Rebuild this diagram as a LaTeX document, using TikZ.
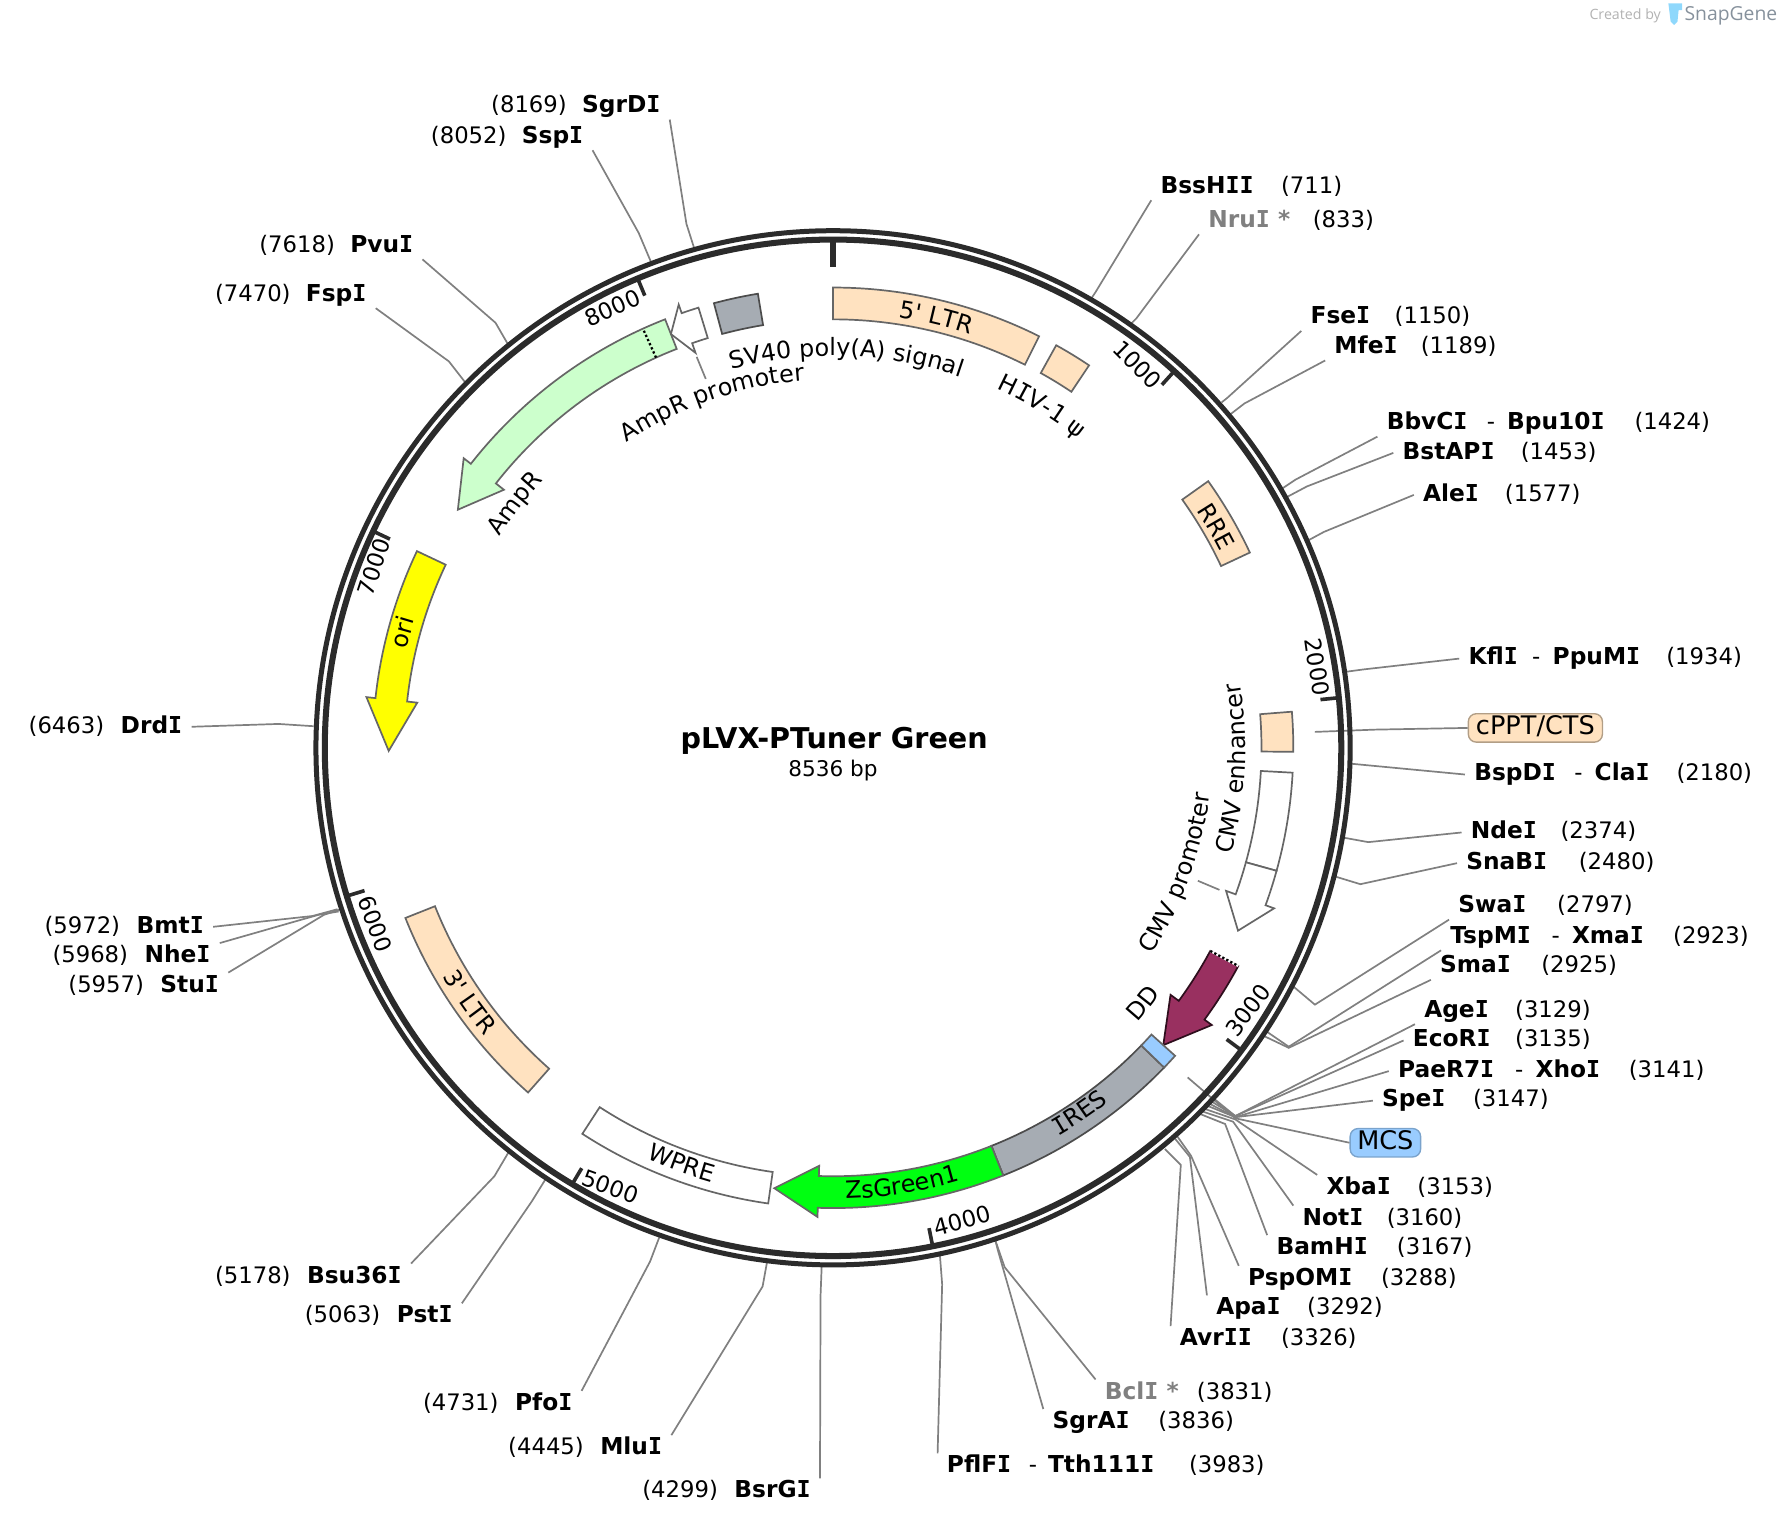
\documentclass[tikz,border=0pt]{standalone}
\usepackage{fontspec}
\setmainfont[Ligatures=TeXOff]{DejaVu Sans}
\newfontfamily\logofont{Open Sans}
\newfontfamily\slabfont{DejaVu Sans Mono}
\newcommand{\sI}{{\slabfont I}}
\newcommand{\lfs}{\fontsize{21}{24}\selectfont}
\usetikzlibrary{decorations.text}
\definecolor{ringc}{HTML}{2B2B2B}
\definecolor{leadc}{HTML}{808080}
\definecolor{peach}{HTML}{FFE2C0}
\definecolor{slate}{HTML}{A6ACB3}
\definecolor{plum}{HTML}{993060}
\definecolor{mint}{HTML}{CCFFCC}
\definecolor{zsgreen}{RGB}{0,255,17}
\definecolor{mcsblue}{HTML}{99CCFF}
\definecolor{oriyellow}{RGB}{255,255,0}
\definecolor{logoblue}{HTML}{8FD8FC}
\definecolor{logogray}{HTML}{86919C}
\tikzset{
  sitename/.style={font=\fontsize{20.5}{24}\selectfont\bfseries, text height=15pt, text depth=4pt,
    inner xsep=8pt, inner ysep=2pt, xshift=-8pt, yshift=-2.5pt, anchor=west},
  sitenum/.style={font=\fontsize{20}{24}\selectfont, text height=15pt, text depth=4pt,
    inner xsep=4pt, inner ysep=0pt, xshift=-4pt, anchor=west},
  sitedash/.style={sitenum, yshift=-2.5pt},
  leader/.style={draw=leadc, line width=1.5pt},
  feat/.style={draw=black!60, line width=1.5pt, line join=miter},
  ticknum/.style={font=\fontsize{20}{24}\selectfont},
  featbadge/.style={font=\fontsize{22.5}{24}\selectfont, rounded corners=7pt, draw=#1, line width=1.2pt,
    minimum height=25pt, inner xsep=0pt, inner ysep=0pt, text height=16pt, text depth=4pt}
}
\newcommand{\site}[9][]{
  \node[sitename,#1] (#2) at (#3) {#4};
  \node[sitenum] (#2 num) at (#5,0 |- #2) {(#6)};
  \coordinate (#2 ring) at (#7);
  \coordinate (#2 bend) at (#8);
  \draw[leader] (#2 ring) -- (#2 bend) -- (#2.#9);
}
\newcommand{\featbox}[3]{
  \draw[feat,#3] (#1-90:405) arc[start angle=#1-90,end angle=#2-90,radius=405]
    -- (#2-90:377) arc[start angle=#2-90,end angle=#1-90,radius=377] -- cycle;
}
\newcommand{\featarrow}[4]{
  \draw[feat,#4] (#1-90:405) arc[start angle=#1-90,end angle=#2-90,radius=405]
    -- (#2-90:413) -- (#3-90:391) -- (#2-90:368) -- (#2-90:377)
    arc[start angle=#2-90,end angle=#1-90,radius=377] -- cycle;
}
\newcommand{\featlabel}[4]{
  \path[decorate,decoration={text along path,text align=center,
    text={|\lfs|#1}}]
    (#3-90:#2) arc[start angle=#3-90,end angle=#4-90,radius=#2];
}
\begin{document}
\begin{tikzpicture}[x=1pt,y=-1pt]
\useasboundingbox (0,0) rectangle (1568,1342.7);

\site{sgrdi}{512,91}{SgrD\sI}{432}{8169}{611,219}{604,197}{south east}
\site{sspi}{459,118}{Ssp\sI}{379}{8052}{573,231}{562,205}{south east}
\site{pvui}{308,214}{Pvu\sI}{228}{7618}{447,303}{436,284}{south east}
\site{fspi}{269,257}{Fsp\sI}{189}{7470}{409,336}{395,318}{south east}
\site{drdi}{106,637}{Drd\sI}{25}{6463}{276,639}{245,637}{east}
\site{bmti}{120,813}{Bmt\sI}{39}{5972}{297,800}{275,806}{east}
\site{nhei}{127,839}{Nhe\sI}{46}{5968}{298,802}{280,805}{north east}
\site{stui}{141,865}{Stu\sI}{60}{5957}{300,800}{285,805}{north east}
\site{bsu}{270,1121}{Bsu36\sI}{189}{5178}{448,1013}{435,1035}{north east}
\site{psti}{349,1156}{Pst\sI}{268}{5063}{481,1036}{468,1057}{north east}
\site{pfoi}{453,1233}{Pfo\sI}{372}{4731}{580,1089}{572,1110}{north east}
\site{mlui}{528,1272}{Mlu\sI}{447}{4445}{675,1110}{671,1132}{north east}
\site{bsrgi}{646,1310}{BsrG\sI}{565}{4299}{723,1114}{722,1140}{north east}
\site{pflfi}{833,1288}{PflF\sI}{1046}{3983}{827,1104}{829,1130}{north west}
\node[sitename] (tth) at (922,1288) {Tth111\sI};
\node[sitedash] (pflfi dash) at (905,1288) {-};
\site{sgrai}{926,1249}{SgrA\sI}{1019}{3836}{876,1092}{878,1100}{north west}
\site[text=leadc]{bcli}{972,1223}{Bcl\sI{} *}{1053}{3831}{876,1092}{884,1115}{north west}
\site{avrii}{1038,1176}{Avr\sI\sI}{1127}{3326}{1025,1011}{1039,1025}{north west}
\site{apai}{1070,1149}{Apa\sI}{1150}{3292}{1034,1002}{1047,1018}{north west}
\site{pspomi}{1098,1123}{PspOM\sI}{1215}{3288}{1036,1000}{1048,1017}{north west}
\site{bamhi}{1123,1096}{BamH\sI}{1229}{3167}{1053,979}{1078,989}{north west}
\site{noti}{1146,1070}{Not\sI}{1220}{3160}{1055,977}{1085,987}{north west}
\site{xbai}{1167,1043}{Xba\sI}{1247}{3153}{1058,975}{1087,985}{north west}
\site{spei}{1216,966}{Spe\sI}{1296}{3147}{1060,972}{1087,983}{west}
\site{paer}{1230,940}{PaeR7\sI}{1433}{3141}{1062,970}{1087,983}{west}
\node[sitename] (xhoi) at (1351,940) {Xho\sI};
\node[sitedash] (paer dash) at (1333,940) {-};
\site{ecori}{1243,913}{EcoR\sI}{1333}{3135}{1064,968}{1087,982}{west}
\site{agei}{1253,887}{Age\sI}{1333}{3129}{1066,965}{1087,982}{south west}
\site{smai}{1267,848}{Sma\sI}{1356}{2925}{1113,912}{1134,922}{south west}
\site{tspmi}{1276,822}{TspM\sI}{1472}{2923}{1115,908}{1134,921}{south west}
\node[sitename] (xmai) at (1383,822) {Xma\sI};
\node[sitedash] (tspmi dash) at (1365,822) {-};
\site{swai}{1283,795}{Swa\sI}{1370}{2797}{1138,868}{1157,884}{south west}
\site{snabi}{1290,757}{SnaB\sI}{1389}{2480}{1174,771}{1197,778}{west}
\site{ndei}{1294,730}{Nde\sI}{1373}{2374}{1182,737}{1204,741}{west}
\site{bspdi}{1297,679}{BspD\sI}{1475}{2180}{1189,672}{1210,674}{west}
\node[sitename] (clai) at (1403,679) {Cla\sI};
\node[sitedash] (bspdi dash) at (1385,679) {-};
\site{kfli}{1292,577}{Kfl\sI}{1466}{1934}{1185,591}{1200,589}{west}
\node[sitename] (ppumi) at (1366,577) {PpuM\sI};
\node[sitedash] (kfli dash) at (1348,577) {-};
\site{alei}{1252,433}{Ale\sI}{1324}{1577}{1152,475}{1165,468}{west}
\site{bstapi}{1234,396}{BstAP\sI}{1338}{1453}{1133,437}{1150,428}{west}
\site{bbvci}{1220,370}{BbvC\sI}{1438}{1424}{1128,430}{1140,422}{south west}
\node[sitename] (bpuI) at (1326,370) {Bpu10\sI};
\node[sitedash] (bbvci dash) at (1308,370) {-};
\site{mfei}{1174,303}{Mfe\sI}{1250}{1189}{1082,365}{1095,355}{south west}
\site{fsei}{1153,277}{Fse\sI}{1227}{1150}{1075,354}{1080,350}{south west}
\site[text=leadc]{nrui}{1063,192}{Nru\sI{} *}{1155}{833}{995,285}{1000,280}{south west}
\site{bsshii}{1021,162}{BssH\sI\sI}{1127}{711}{960,263}{964,257}{south west}

\node[featbadge=black!30!peach,fill=peach,minimum width=118pt] (cppt) at (1351,640.5) {cPPT/CTS};
\coordinate (cppt in) at (1157,644);
\coordinate (cppt bend) at (1210,642);
\draw[leader] (cppt in) -- (cppt bend) -- (cppt.west);
\node[featbadge=black!20!mcsblue,fill=mcsblue,minimum width=62pt] (mcs) at (1219,1005.5) {MCS};
\coordinate (mcs in) at (1045,948);
\coordinate (mcs bend) at (1087,984);
\draw[leader] (mcs in) -- (mcs bend) -- (mcs.west);
\coordinate (ampp a) at (613,314);
\coordinate (ampp b) at (621,333.4);
\draw[leader] (ampp a) -- (ampp b);
\coordinate (cmvp a) at (1054,775);
\coordinate (cmvp b) at (1073,783);
\draw[leader] (cmvp a) -- (cmvp b);

\begin{scope}[shift={(733,658)}]
\draw[ringc,line width=4.4pt] (0,0) circle[radius=455];
\draw[ringc,line width=5.3pt] (0,0) circle[radius=447.2];
\foreach \p in {1,...,8}
  \draw[ringc,line width=3.2pt] ({\p*42.1743-90}:449) -- ({\p*42.1743-90}:431);
\draw[ringc,line width=5pt] (-90:449) -- (-90:423);

\featbox{0}{26.6}{fill=peach}
\featbox{29}{33.8}{fill=peach}
\featbox{54.6}{64.9}{fill=peach}
\featbox{85.5}{90.5}{fill=peach}
\featbox{93.1}{105.5}{fill=white}
\featarrow{105.5}{110}{114.3}{fill=white}
\featarrow{118.3}{126.2}{132}{fill=plum,draw=black!70!plum}
\draw[white,line width=2pt] (118.3-90:377) -- (118.3-90:405);
\draw[black,line width=2pt,dash pattern=on 2pt off 2pt] (118.3-90:377) -- (118.3-90:405);
\featbox{134}{158.3}{fill=slate,draw=black!70}
\featbox{132}{134}{fill=mcsblue,draw=black!60}
\featarrow{158.3}{181.9}{187.6}{fill=zsgreen,draw=black!60}
\featbox{188.1}{213}{fill=white}
\featbox{221.5}{248.3}{fill=peach}
\featarrow{295.3}{276.2}{269.6}{fill=oriyellow}
\featarrow{338.6}{308.1}{302.4}{fill=mint}
\draw[black,line width=2pt,dash pattern=on 2pt off 2pt] (335.6-90:377) -- (335.6-90:405);
\featarrow{343}{340.8}{338.6}{fill=white}
\featbox{345}{350.6}{fill=slate,draw=black!70}

\featlabel{5' LTR}{383}{-10}{37}
\featlabel{H|\slabfont\lfs|I|\lfs|V-1 ψ}{347}{10}{53}
\featlabel{RRE}{382}{40}{80}
\featlabel{SV40 poly(A) signal}{345}{-30}{34}
\featlabel{AmpR promoter}{324}{-55}{16.5}
\featlabel{AmpR}{347}{-85}{-20}
\featlabel{ori}{385}{255}{315}
\featlabel{3' LTR}{398}{265}{205}
\featlabel{WPRE}{397}{230}{170}
\featlabel{ZsGreen1}{397}{200}{142}
\featlabel{|\slabfont\lfs|I|\lfs|RES}{395}{175}{117}
\featlabel{DD}{361}{160}{99}
\featlabel{CMV promoter}{334}{150}{70}
\featlabel{CMV enhancer}{363}{130}{56}
\end{scope}

\node[ticknum,rotate=-45] (t1000) at (1001,321) {1000};
\node[ticknum,rotate=-82] (t2000) at (1159,587) {2000};
\node[ticknum,rotate=53] (t3000) at (1098,889) {3000};
\node[ticknum,rotate=15] (t4000) at (847,1074) {4000};
\node[ticknum,rotate=-20] (t5000) at (537,1044) {5000};
\node[ticknum,rotate=-70] (t6000) at (330,813) {6000};
\node[ticknum,rotate=72] (t7000) at (329,499) {7000};
\node[ticknum,rotate=24] (t8000) at (539,271) {8000};

\node[font=\fontsize{25.2}{28}\selectfont\bfseries] (title) at (734,651.5) {pLVX-PTuner Green};
\node[font=\fontsize{19}{22}\selectfont] (size) at (733,678) {8536 bp};

\node[font=\logofont\fontsize{12.5}{15}\selectfont,text=black!30] (created) at (1430,14) {Created by};
\node[font=\logofont\fontsize{17}{20}\selectfont,text=logogray] (snapgene) at (1523,14) {SnapGene};
\fill[logoblue] (1468,3) -- (1480,3) -- (1480,9) -- (1477,9) -- (1476,19) -- (1473,22) -- (1470,19) -- cycle;
\end{tikzpicture}
\end{document}
